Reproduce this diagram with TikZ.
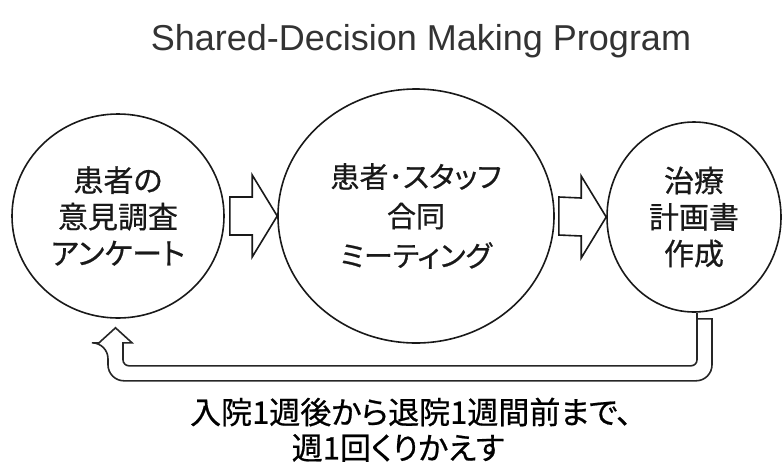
\documentclass[tikz,border=0pt]{standalone}
\usepackage{fontspec}
\setmainfont{Liberation Sans}
\newfontfamily\jp{Noto Sans CJK JP}[RawFeature=+palt,FakeBold=0.6]
\usetikzlibrary{shapes.geometric,calc}
\begin{document}
\begin{tikzpicture}[x=1pt,y=-1pt,
  bub/.style={ellipse,draw=black!90,line width=1.6pt,inner sep=0pt,align=center,text=black!90},
  blk/.style={draw=black!90,line width=1.6pt,line join=miter},
  fb/.style={draw=black!85,line width=1.6pt},
  jptext/.style={font=\jp\fontsize{30}{36.5}\selectfont}
]
\useasboundingbox (0,0) rectangle (783,472);
\node[anchor=base,font=\fontsize{36}{40}\selectfont,text=black!80] (title) at (421,50) {Shared-Decision Making Program};

\node[bub,jptext,minimum width=212pt,minimum height=204pt] (a) at (118,216) {患者の\\意見調査\\アンケート};
\node[bub,font=\jp\fontsize{29}{39.5}\selectfont,minimum width=276pt,minimum height=254pt] (b) at (416,216) {患者･スタッフ\\合同\\ミーティング};
\node[bub,jptext,minimum width=174pt,minimum height=190pt] (c) at (694,217) {治療\\計画書\\作成};

% block arrows
\draw[blk] ($(a.east)+(5,-19)$) -- ($(b.west)+(-25,-19)$) -- ($(b.west)+(-25,-41)$) -- (b.west)
  -- ($(b.west)+(-25,41)$) -- ($(b.west)+(-25,19)$) -- ($(a.east)+(5,19)$) -- cycle;
\draw[blk] ($(b.east)+(4,-19)$) -- ($(c.west)+(-25,-19)$) -- ($(c.west)+(-25,-41)$) -- (c.west)
  -- ($(c.west)+(-25,41)$) -- ($(c.west)+(-25,19)$) -- ($(b.east)+(4,19)$) -- cycle;

% feedback arrow
\coordinate (fbs) at ($(c.south)+(10.5,6)$);
\coordinate (fbt) at ($(a.south)+(-2.5,9)$);
\draw[fb] ($(fbs)+(-7.5,0)$) -- ($(fbs)+(7.5,0)$)
  [rounded corners=16pt] -- ($(fbs)+(7.5,62)$) -- ($(fbt)+(-7.5,53)$) -- ($(fbt)+(-7.5,15)$)
  [sharp corners] -- ($(fbt)+(-16.5,15)$) -- (fbt) -- ($(fbt)+(16.5,15)$) -- ($(fbt)+(7.5,15)$)
  [rounded corners=6pt] -- ($(fbt)+(7.5,38)$) -- ($(fbs)+(-7.5,47)$) -- ($(fbs)+(-7.5,0)$)
  [sharp corners] -- cycle;

\node[font=\jp\fontsize{31}{36}\selectfont,text=black] (note1) at (411,412) {入院1週後から退院1週間前まで、};
\node[font=\jp\fontsize{31}{36}\selectfont,text=black] (note2) at (398,448) {週1回くりかえす};
\end{tikzpicture}
\end{document}
